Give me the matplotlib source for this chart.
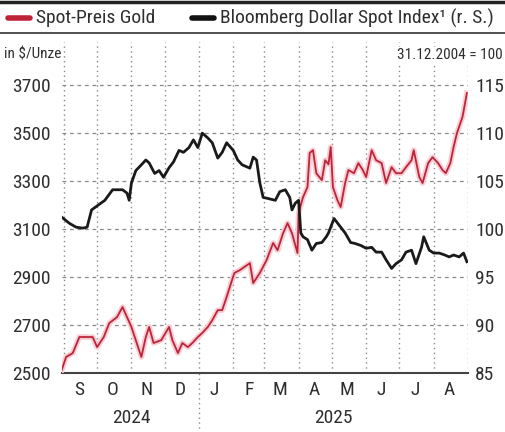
import matplotlib
matplotlib.use("Agg")
import matplotlib.pyplot as plt
import matplotlib.dates as mdates
from datetime import datetime

plt.rcParams['font.family'] = ['Roboto Condensed', 'DejaVu Sans']

# Spot-Preis Gold, $/Unze (left axis)
gold_dates = ["2024-08-30", "2024-09-03", "2024-09-09", "2024-09-15", "2024-09-22", "2024-09-27",
              "2024-10-01", "2024-10-07", "2024-10-12", "2024-10-19", "2024-10-24", "2024-10-28",
              "2024-11-01", "2024-11-07", "2024-11-10", "2024-11-14", "2024-11-17", "2024-11-21",
              "2024-11-28", "2024-12-05", "2024-12-08", "2024-12-13", "2024-12-17", "2024-12-22",
              "2024-12-26", "2024-12-31", "2025-01-04", "2025-01-09", "2025-01-13", "2025-01-18",
              "2025-01-22", "2025-01-26", "2025-01-30", "2025-02-02", "2025-02-07", "2025-02-11",
              "2025-02-16", "2025-02-19", "2025-02-25", "2025-03-03", "2025-03-09", "2025-03-13",
              "2025-03-18", "2025-03-22", "2025-03-26", "2025-03-31", "2025-04-01", "2025-04-05",
              "2025-04-09", "2025-04-11", "2025-04-14", "2025-04-17", "2025-04-22", "2025-04-25",
              "2025-04-28", "2025-04-30", "2025-05-02", "2025-05-06", "2025-05-09", "2025-05-13",
              "2025-05-16", "2025-05-21", "2025-05-25", "2025-05-29", "2025-06-01", "2025-06-06",
              "2025-06-10", "2025-06-15", "2025-06-19", "2025-06-24", "2025-06-28", "2025-07-03",
              "2025-07-07", "2025-07-12", "2025-07-14", "2025-07-19", "2025-07-22", "2025-07-27",
              "2025-07-31", "2025-08-05", "2025-08-09", "2025-08-12", "2025-08-16", "2025-08-19",
              "2025-08-22", "2025-08-27", "2025-08-31"]
gold = [2512, 2567, 2583, 2650, 2650, 2650,
        2608, 2650, 2708, 2733, 2775, 2733,
        2692, 2608, 2567, 2650, 2692, 2625,
        2637, 2692, 2637, 2583, 2625, 2608,
        2625, 2650, 2667, 2692, 2720, 2762,
        2762, 2817, 2875, 2917, 2929, 2942,
        2958, 2875, 2917, 2970, 3042, 3012,
        3083, 3125, 3083, 3000, 3167, 3233,
        3275, 3417, 3429, 3333, 3304, 3387,
        3370, 3442, 3275, 3221, 3192, 3292,
        3346, 3333, 3375, 3346, 3317, 3429,
        3387, 3375, 3292, 3358, 3333, 3333,
        3358, 3387, 3429, 3317, 3292, 3375,
        3400, 3375, 3346, 3333, 3375, 3442,
        3500, 3567, 3667]

# Bloomberg Dollar Spot Index, 31.12.2004 = 100 (right axis)
usd_dates = ["2024-08-30", "2024-09-06", "2024-09-12", "2024-09-18", "2024-09-22", "2024-09-26",
             "2024-10-02", "2024-10-08", "2024-10-15", "2024-10-24", "2024-10-28", "2024-10-30",
             "2024-11-01", "2024-11-05", "2024-11-10", "2024-11-14", "2024-11-17", "2024-11-22",
             "2024-11-26", "2024-11-30", "2024-12-05", "2024-12-09", "2024-12-14", "2024-12-18",
             "2024-12-23", "2024-12-27", "2024-12-31", "2025-01-04", "2025-01-09", "2025-01-13",
             "2025-01-18", "2025-01-22", "2025-01-26", "2025-02-01", "2025-02-05", "2025-02-09",
             "2025-02-16", "2025-02-19", "2025-02-22", "2025-02-25", "2025-02-28", "2025-03-04",
             "2025-03-11", "2025-03-15", "2025-03-20", "2025-03-24", "2025-03-26", "2025-03-29",
             "2025-04-01", "2025-04-03", "2025-04-05", "2025-04-09", "2025-04-13", "2025-04-17",
             "2025-04-22", "2025-04-26", "2025-04-28", "2025-05-03", "2025-05-09", "2025-05-13",
             "2025-05-18", "2025-05-22", "2025-05-27", "2025-06-01", "2025-06-06", "2025-06-10",
             "2025-06-15", "2025-06-19", "2025-06-24", "2025-06-28", "2025-07-03", "2025-07-07",
             "2025-07-12", "2025-07-16", "2025-07-21", "2025-07-23", "2025-07-28", "2025-08-01",
             "2025-08-06", "2025-08-11", "2025-08-15", "2025-08-19", "2025-08-24", "2025-08-28",
             "2025-08-31"]
usd = [101.25, 100.6, 100.2, 100.1, 100.2, 102.0,
       102.5, 103.0, 104.1, 104.1, 103.75, 103.0,
       104.8, 106.1, 106.7, 107.2, 106.9, 105.8,
       106.1, 105.4, 106.4, 107.0, 108.2, 108.0,
       108.5, 109.3, 108.5, 110.0, 109.5, 109.0,
       107.4, 108.0, 109.0, 108.2, 107.2, 106.7,
       106.35, 107.5, 107.2, 104.8, 103.3, 103.2,
       103.0, 103.9, 104.1, 103.3, 102.0, 102.7,
       103.0, 99.6, 99.2, 98.9, 97.8, 98.5,
       98.6, 99.2, 99.6, 101.1, 100.2, 99.6,
       98.6, 98.5, 98.3, 98.0, 98.1, 97.6,
       97.6, 96.8, 95.9, 96.4, 96.8, 97.6,
       97.8, 96.4, 98.1, 99.2, 97.8, 97.5,
       97.5, 97.3, 97.1, 97.3, 97.1, 97.5,
       96.6]

month_labels = ["S", "O", "N", "D", "J", "F", "M", "A", "M", "J", "J", "A"]
month_mid = ["2024-09-15", "2024-10-15", "2024-11-15", "2024-12-15", "2025-01-15", "2025-02-15",
             "2025-03-15", "2025-04-15", "2025-05-15", "2025-06-15", "2025-07-15", "2025-08-15"]
month_starts = ["2024-09-01", "2024-10-01", "2024-11-01", "2024-12-01", "2025-01-01", "2025-02-01",
                "2025-03-01", "2025-04-01", "2025-05-01", "2025-06-01", "2025-07-01", "2025-08-01",
                "2025-09-01"]
gold_ticks = [2500, 2700, 2900, 3100, 3300, 3500, 3700]
usd_ticks = [85, 90, 95, 100, 105, 110, 115]


def d(s):
    return mdates.date2num(datetime.strptime(s, "%Y-%m-%d"))


W, H = 505, 432
fig = plt.figure(figsize=(W / 100, H / 100), dpi=100)
L, R, B, T = 62, 468, 373, 42
ax = fig.add_axes([L / W, (H - B) / H, (R - L) / W, (B - T) / H])
ax2 = ax.twinx()

red = "#be2438"
txt = "#2e2e2e"
gx = [d(s) for s in gold_dates]
ux = [d(s) for s in usd_dates]
ax.plot(gx, gold, color="#f6cdd4", lw=4, solid_joinstyle="round", zorder=3)
ax.plot(gx, gold, color=red, lw=1.3, zorder=4)
ax2.plot(ux, usd, color="#1a1a1a", lw=2.0, zorder=4)

ax.set_xlim(d("2024-08-30") + 0.3, d("2025-09-01"))
ax.set_ylim(2500, 3880)
ax2.set_ylim(85, 119.5)

# grid
for y in gold_ticks[1:]:
    ax.axhline(y, color="#8a8a8a", lw=0.9, ls=(0, (3, 3)), zorder=1)
for s in month_starts:
    ax.axvline(d(s), color="#8a8a8a", lw=1.0, ls=(0, (1, 2.5)), zorder=1)
# year separator below axis
ax.plot([d("2025-01-01")] * 2, [-0.18, 0], transform=ax.get_xaxis_transform(),
        color="#8a8a8a", lw=1.0, ls=(0, (1, 2.5)), clip_on=False)

for a in (ax, ax2):
    for sp in a.spines.values():
        sp.set_visible(False)
    a.tick_params(length=0)
ax.spines["bottom"].set_visible(True)
ax.spines["bottom"].set_color("#444444")
ax.spines["bottom"].set_linewidth(1.5)

fs = 14
ax.set_yticks(gold_ticks)
ax.set_yticklabels([str(v) for v in gold_ticks], fontsize=fs, color=txt)
ax.tick_params(axis="y", pad=8)
ax2.set_yticks(usd_ticks)
ax2.set_yticklabels([str(v) for v in usd_ticks], fontsize=fs, color=txt)
ax2.tick_params(axis="y", pad=5)

ax.set_xticks([d(s) for s in month_mid])
ax.set_xticklabels(month_labels, fontsize=fs, color=txt)
ax.tick_params(axis="x", pad=6)

# year labels
ax.text(d("2024-11-01"), -0.135, "2024", transform=ax.get_xaxis_transform(),
        ha="center", va="center", fontsize=fs, color=txt)
ax.text(d("2025-05-02"), -0.135, "2025", transform=ax.get_xaxis_transform(),
        ha="center", va="center", fontsize=fs, color=txt)

# header: rules, legend, units
fig.add_artist(plt.Line2D([0, 1], [1 - 2 / H, 1 - 2 / H], color="#222222", lw=2.5))
fig.add_artist(plt.Line2D([0, 1], [1 - 33 / H, 1 - 33 / H], color="#333333", lw=1.2))
ly = 1 - 18 / H
fig.add_artist(plt.Line2D([8 / W, 30 / W], [ly, ly], color=red, lw=4, solid_capstyle="round"))
fig.text(36 / W, ly, "Spot-Preis Gold", fontsize=fs, color=txt, va="center")
fig.add_artist(plt.Line2D([192 / W, 214 / W], [ly, ly], color="#111111", lw=4, solid_capstyle="round"))
fig.text(220 / W, ly, "Bloomberg Dollar Spot Index\u00b9 (r. S.)", fontsize=fs,
         color=txt, va="center")

fig.text(4 / W, 1 - 55 / H, "in $/Unze", fontsize=11, color=txt, va="center")
fig.text(503 / W, 1 - 55 / H, "31.12.2004 = 100", fontsize=11, color=txt,
         va="center", ha="right",
         bbox=dict(facecolor="white", edgecolor="none", pad=1))

fig.savefig("out.png", dpi=100)
